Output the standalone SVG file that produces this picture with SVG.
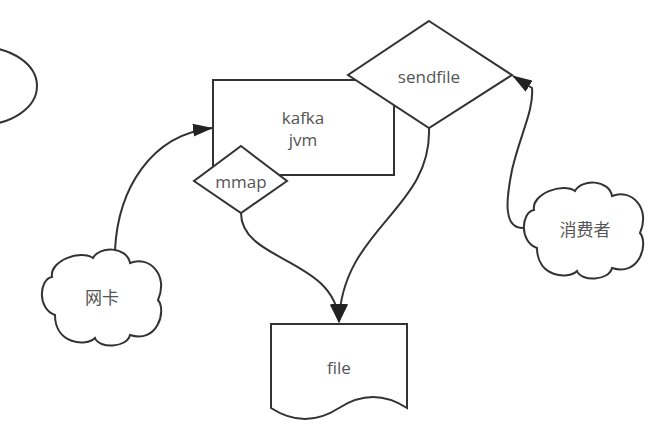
<svg xmlns="http://www.w3.org/2000/svg" xmlns:xlink="http://www.w3.org/1999/xlink" width="660" height="442" viewBox="0 0 660 442">
<style>
.shape{fill:#ffffff;stroke:#333333;stroke-width:2}
.edge{fill:none;stroke:#333333;stroke-width:2}
.lbl{font-family:"Open Sans","Noto Sans CJK SC",sans-serif;font-size:17px;fill:#555555;text-anchor:middle}
</style>
<defs>
<marker id="arr" viewBox="0 0 20 13" refX="19" refY="6.5" markerUnits="userSpaceOnUse" markerWidth="20" markerHeight="13" orient="auto">
<path d="M0,0 L20,6.5 L0,13 Z" fill="#222222"/>
</marker>
<marker id="arrL" viewBox="0 0 19 17" refX="18" refY="8.5" markerUnits="userSpaceOnUse" markerWidth="19" markerHeight="17" orient="auto">
<path d="M0,0 L19,8.5 L0,17 Z" fill="#222222"/>
</marker>
<path id="cloud" d="M11,28 C8,12 40,0 52,9 C58,-3 86,-3 89,14 C108,6 128,26 117,51 C126,62 116,95 89,86 C86,99 58,100 54,89 C45,98 14,95 14,66 C-4,60 -2,30 11,28 Z"/>
</defs>
<rect width="660" height="442" fill="#ffffff"/>
<g id="ellipse">
<ellipse class="shape" cx="-20" cy="86" rx="57" ry="39"/>
</g>
<g id="kafka">
<rect class="shape" x="213" y="80" width="181" height="95"/>
<text class="lbl" x="303" y="124">kafka</text>
<text class="lbl" x="303" y="146">jvm</text>
</g>
<g id="sendfile">
<polygon class="shape" points="429,21 512,75 429,128 348,75"/>
<text class="lbl" x="429" y="83">sendfile</text>
</g>
<g id="mmap">
<polygon class="shape" points="241,146 287,181 241,213 194,181"/>
<text class="lbl" x="241" y="188">mmap</text>
</g>
<g id="file">
<path class="shape" d="M271,324 H407 V408 Q373,386 339,408 Q305,430 271,408 Z"/>
<text class="lbl" x="339" y="374">file</text>
</g>
<g id="wangka">
<use xlink:href="#cloud" href="#cloud" class="shape" x="41" y="249"/>
<text class="lbl" x="102" y="304">网卡</text>
</g>
<g id="consumer">
<use xlink:href="#cloud" href="#cloud" class="shape" x="523" y="182"/>
<text class="lbl" x="585" y="236">消费者</text>
</g>
<g id="connectors">
<path class="edge" d="M115,250 C118,190 150,135 212,128" marker-end="url(#arr)"/>
<path class="edge" d="M241,213 C241,262 336,258 339,322" marker-end="url(#arrL)"/>
<path class="edge" d="M429,128 C432,210 342,228 339,322" marker-end="url(#arrL)"/>
<path class="edge" d="M523,228 C503,228 506,200 512,170 C520,135 534,110 532,88 L513,76" marker-end="url(#arr)"/>
</g>
</svg>
